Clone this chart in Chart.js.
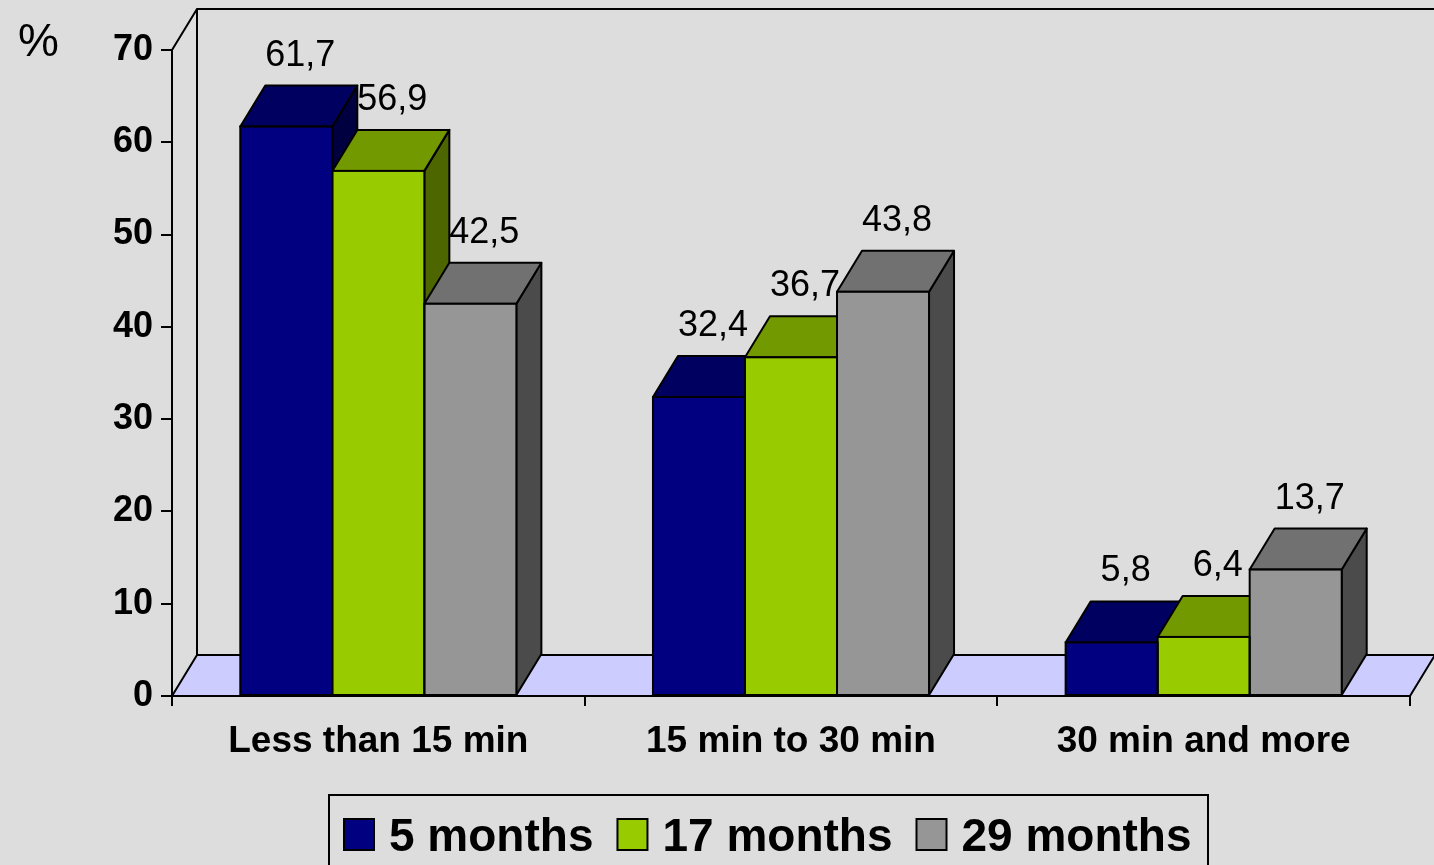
<!DOCTYPE html>
<html>
<head>
<meta charset="utf-8">
<script src="https://cdn.jsdelivr.net/npm/chart.js@4"></script>
<style>
  body { margin: 0; background: #dddddd; }
  canvas { display: block; }
</style>
</head>
<body>
<canvas id="barCanvas" width="1434" height="865"></canvas>
<script>
const categories = ["Less than 15 min", "15 min to 30 min", "30 min and more"];
const seriesNames = ["5 months", "17 months", "29 months"];
const months5 = [61.7, 32.4, 5.8];
const months17 = [56.9, 36.7, 6.4];
const months29 = [42.5, 43.8, 13.7];
const yTicks = [0, 10, 20, 30, 40, 50, 60, 70];

// front / top / side shades of each series
const frontColors = ["#000080", "#99cc00", "#969696"];
const topColors = ["#000060", "#739900", "#717171"];
const sideColors = ["#000040", "#4d6600", "#4b4b4b"];

// depth offset of the 3d boxes, walls and floor
const DX = 25, DY = -41;
const FONT = "'Liberation Sans', Arial, sans-serif";

function poly(ctx, pts, fill) {
  ctx.beginPath();
  ctx.moveTo(pts[0][0], pts[0][1]);
  for (let k = 1; k < pts.length; k++) ctx.lineTo(pts[k][0], pts[k][1]);
  ctx.closePath();
  if (fill) {
    ctx.fillStyle = fill;
    ctx.fill();
  }
  ctx.stroke();
}

function barBox(chart, i, j) {
  const bar = chart.getDatasetMeta(i).data[j];
  const p = bar.getProps(["x", "y", "base", "width"], true);
  return { x: p.x, y: p.y, base: p.base, l: p.x - p.width / 2, r: p.x + p.width / 2 };
}

const box3d = {
  id: "box3d",
  beforeDraw(chart) {
    const { ctx, chartArea: a } = chart;
    ctx.save();
    ctx.fillStyle = "#dddddd";
    ctx.fillRect(0, 0, chart.width, chart.height);
    ctx.strokeStyle = "#000";
    ctx.lineWidth = 2;
    // walls
    ctx.beginPath();
    ctx.moveTo(a.left, a.top);
    ctx.lineTo(a.left + DX, a.top + DY);
    ctx.lineTo(a.right + DX, a.top + DY);
    ctx.lineTo(a.right + DX, a.bottom + DY);
    ctx.moveTo(a.left + DX, a.top + DY);
    ctx.lineTo(a.left + DX, a.bottom + DY);
    ctx.stroke();
    // floor
    poly(ctx, [[a.left, a.bottom], [a.right, a.bottom],
               [a.right + DX, a.bottom + DY], [a.left + DX, a.bottom + DY]], "#ccccff");
    ctx.restore();
  },
  beforeDatasetsDraw(chart) {
    const ctx = chart.ctx;
    ctx.save();
    ctx.strokeStyle = "#000";
    ctx.lineWidth = 2;
    ctx.lineJoin = "round";
    categories.forEach((c, j) => {
      chart.data.datasets.forEach((ds, i) => {
        const b = barBox(chart, i, j);
        poly(ctx, [[b.r, b.y], [b.r + DX, b.y + DY], [b.r + DX, b.base + DY], [b.r, b.base]], sideColors[i]);
        poly(ctx, [[b.l, b.y], [b.r, b.y], [b.r + DX, b.y + DY], [b.l + DX, b.y + DY]], topColors[i]);
      });
    });
    ctx.restore();
  },
  afterDatasetsDraw(chart) {
    const ctx = chart.ctx;
    ctx.save();
    ctx.strokeStyle = "#000";
    ctx.lineWidth = 2;
    ctx.fillStyle = "#000";
    ctx.font = "36px " + FONT;
    ctx.textAlign = "center";
    ctx.textBaseline = "alphabetic";
    chart.data.datasets.forEach((ds, i) => {
      ds.data.forEach((v, j) => {
        const b = barBox(chart, i, j);
        ctx.strokeRect(b.l, b.y, b.r - b.l, b.base - b.y);
        ctx.fillText(v.toFixed(1).replace(".", ","), b.x + 14, b.y + DY - 20);
      });
    });
    ctx.restore();
  },
  afterDraw(chart) {
    const ctx = chart.ctx;
    ctx.save();
    ctx.fillStyle = "#000";
    ctx.font = "46px " + FONT;
    ctx.textAlign = "left";
    ctx.fillText("%", 18, 56);

    // legend
    ctx.strokeStyle = "#000";
    ctx.lineWidth = 2;
    ctx.strokeRect(329, 795, 879, 90);
    ctx.font = "bold 46px " + FONT;
    let cx = 344;
    seriesNames.forEach((name, i) => {
      ctx.fillStyle = frontColors[i];
      ctx.fillRect(cx, 819, 30, 31);
      ctx.strokeRect(cx, 819, 30, 31);
      ctx.fillStyle = "#000";
      ctx.fillText(name, cx + 45, 851);
      cx += 45 + ctx.measureText(name).width + 24;
    });
    ctx.restore();
  }
};

new Chart(document.getElementById("barCanvas"), {
  type: "bar",
  data: {
    labels: categories,
    datasets: [
      { label: seriesNames[0], data: months5, backgroundColor: frontColors[0] },
      { label: seriesNames[1], data: months17, backgroundColor: frontColors[1] },
      { label: seriesNames[2], data: months29, backgroundColor: frontColors[2] },
    ],
  },
  options: {
    responsive: false,
    animation: false,
    devicePixelRatio: 1,
    layout: { padding: { top: 50, right: 24, left: 0, bottom: 0 } },
    datasets: { bar: { categoryPercentage: 0.669, barPercentage: 1, borderWidth: 0 } },
    plugins: { legend: { display: false }, tooltip: { enabled: false } },
    scales: {
      x: {
        afterFit(s) { s.height = 169; },
        grid: { offset: true, drawOnChartArea: false, color: "#000", lineWidth: 2, tickLength: 10 },
        border: { color: "#000", width: 2 },
        ticks: {
          color: "#000",
          font: { family: FONT, size: 37, weight: "bold" },
          padding: 14,
          maxRotation: 0,
        },
      },
      y: {
        min: 0,
        max: 70,
        afterFit(s) { s.width = 172; },
        afterBuildTicks(s) { s.ticks = yTicks.map(v => ({ value: v })); },
        grid: { drawOnChartArea: false, color: "#000", lineWidth: 2, tickLength: 11 },
        border: { color: "#000", width: 2 },
        ticks: {
          color: "#000",
          font: { family: FONT, size: 36, weight: "bold" },
          padding: 8,
        },
      },
    },
  },
  plugins: [box3d],
});
</script>
</body>
</html>
